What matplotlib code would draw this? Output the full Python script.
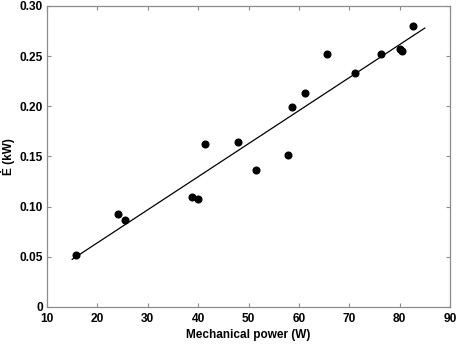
import matplotlib
matplotlib.use("Agg")
import matplotlib.pyplot as plt
import numpy as np

power_w = [15.7, 24.0, 25.5, 38.8, 40.0, 41.4, 48.0, 51.4, 57.9, 58.6,
           61.3, 65.6, 71.2, 76.3, 80.0, 80.4, 82.7]
edot_kw = [0.0515, 0.093, 0.0867, 0.110, 0.108, 0.1625, 0.1648, 0.137, 0.151, 0.199,
           0.213, 0.252, 0.233, 0.2526, 0.257, 0.255, 0.2805]

fit_x = [15.0, 85.0]
fit_y = [0.0475, 0.278]

x_ticks = [10, 20, 30, 40, 50, 60, 70, 80, 90]
y_ticks = [0, 0.05, 0.10, 0.15, 0.20, 0.25, 0.30]
y_tick_labels = ["0", "0.05", "0.10", "0.15", "0.20", "0.25", "0.30"]

plt.rcParams['font.family'] = ['Liberation Sans', 'DejaVu Sans']
plt.rcParams['font.weight'] = 'bold'

fig = plt.figure(figsize=(4.59, 3.44), dpi=100)
ax = fig.add_axes([0.1024, 0.1076, 0.8780, 0.8750])

ax.plot(fit_x, fit_y, color='black', lw=0.9)
ax.plot(power_w, edot_kw, 'o', color='black', ms=4.8)

ax.set_xlim(10, 90)
ax.set_ylim(0, 0.30)
ax.set_xticks(x_ticks)
ax.set_yticks(y_ticks)
ax.set_yticklabels(y_tick_labels)

for s in ax.spines.values():
    s.set_color('#8c8c8c')
    s.set_linewidth(0.9)
ax.tick_params(direction='in', length=3, width=0.8, color='#8c8c8c',
               labelsize=8.6, top=True, right=True)
ax.tick_params(axis='x', pad=4.5)
ax.tick_params(axis='y', pad=3)
for lab in ax.get_xticklabels() + ax.get_yticklabels():
    lab.set_fontweight('bold')

ax.set_xlabel('Mechanical power (W)', fontsize=8.5, fontweight='bold', labelpad=3)
ax.set_ylabel('\u0116 (kW)', fontsize=8.5, fontweight='bold', labelpad=3)

fig.savefig('out.png', dpi=100)
